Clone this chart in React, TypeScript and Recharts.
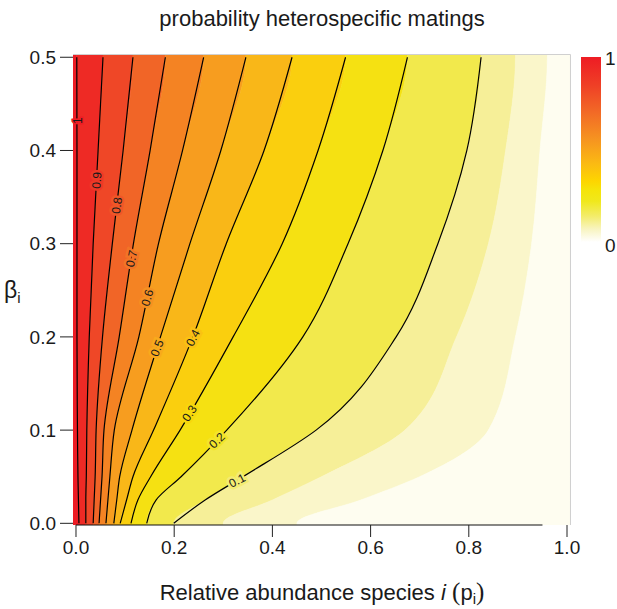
import { Area, ComposedChart, Line, ReferenceDot, ReferenceLine, XAxis, YAxis } from "recharts";

const FONT = "'Liberation Sans', Arial, sans-serif";

const betaLevels = [0, 0.025, 0.05, 0.1, 0.2, 0.3, 0.4, 0.5];

// p_i where each contour crosses the beta rows above
const contour100 = [0.006, 0.005, 0.004, 0.003, 0.002, 0.002, 0.002, 0.0016];
const contour090 = [0.02, 0.02, 0.021, 0.022, 0.027, 0.035, 0.045, 0.055];
const contour080 = [0.035, 0.037, 0.039, 0.041, 0.054, 0.074, 0.096, 0.116];
const contour070 = [0.047, 0.05, 0.053, 0.057, 0.088, 0.117, 0.151, 0.182];
const contour060 = [0.061, 0.065, 0.069, 0.078, 0.128, 0.168, 0.217, 0.26];
const contour050 = [0.077, 0.083, 0.089, 0.114, 0.172, 0.232, 0.295, 0.346];
const contour040 = [0.09, 0.103, 0.116, 0.158, 0.238, 0.306, 0.383, 0.44];
const contour030 = [0.112, 0.126, 0.152, 0.212, 0.32, 0.42, 0.493, 0.549];
const contour020 = [0.144, 0.163, 0.214, 0.307, 0.462, 0.554, 0.625, 0.675];
const contour010 = [0.199, 0.263, 0.34, 0.489, 0.652, 0.737, 0.796, 0.825];
// faint levels, only visible as colour steps in the heat map (no line)
const contour005 = [0.3, 0.4, 0.5, 0.67, 0.775, 0.84, 0.875, 0.895];
const contour002 = [0.45, 0.58, 0.7, 0.84, 0.895, 0.928, 0.945, 0.96];

const contourLines = [contour100, contour090, contour080, contour070, contour060, contour050, contour040, contour030, contour020, contour010];
const paleLines = [contour005, contour002];

const levelNames = ["1", "0.9", "0.8", "0.7", "0.6", "0.5", "0.4", "0.3", "0.2", "0.1"];
const labelP = [0.003, 0.042, 0.083, 0.113, 0.145, 0.165, 0.238, 0.231, 0.287, 0.328];
const labelBeta = [0.432, 0.368, 0.341, 0.284, 0.242, 0.188, 0.199, 0.118, 0.089, 0.046];
const labelAngle = [-90, -86, -82, -78, -74, -68, -62, -56, -44, -27];
const labelHalo = ["#ED1C24", "#EE3826", "#F05627", "#F27426", "#F59021", "#F8AA1C", "#FAC213", "#F7D80C", "#F3E52A", "#F4EC72"];

// fill between neighbouring boundaries, left to right
const bandColors = [
  "#ED1C24", "#EE2A25", "#EF4727", "#F16527", "#F48323", "#F79D1F", "#F9B718",
  "#FACF0E", "#F5E112", "#F2E94C", "#F6EF98", "#FAF6CA", "#FEFDF0",
];

const xTicks = [0, 0.2, 0.4, 0.6, 0.8, 1];
const yTicks = [0, 0.1, 0.2, 0.3, 0.4, 0.5];
const xDomain = [-0.0061, 1.0061];
const yDomain = [-0.0018, 0.5035];

const allLines = [...contourLines, ...paleLines];

const makeRow = (beta: number, i: number, pad: boolean) => ({
  beta,
  pad,
  edges: [xDomain[0], ...allLines.map((c) => c[i]), xDomain[1]],
});

// the two pad rows stretch the heat map to the frame edges
const rows = [
  makeRow(yDomain[0], 0, true),
  ...betaLevels.map((b, i) => makeRow(b, i, false)),
  makeRow(yDomain[1], betaLevels.length - 1, true),
];

export default function App() {
  return (
    <div style={{ position: "absolute", left: 0, top: 0, width: 617, height: 609, background: "#fff" }}>
      <ComposedChart
        width={617}
        height={609}
        layout="vertical"
        data={rows}
        margin={{ top: 54, right: 47, bottom: 0, left: 0 }}
      >
        <XAxis
          type="number"
          domain={xDomain}
          allowDataOverflow
          ticks={xTicks}
          interval={0}
          tickFormatter={(v: number) => v.toFixed(1)}
          height={84}
          tickSize={12}
          tickMargin={4}
          axisLine={false}
          tickLine={{ stroke: "#222" }}
          tick={{ fontSize: 19, fill: "#1a1a1a", fontFamily: FONT }}
        />
        <YAxis
          type="number"
          dataKey="beta"
          domain={yDomain}
          reversed
          allowDataOverflow
          ticks={yTicks}
          interval={0}
          tickFormatter={(v: number) => v.toFixed(1)}
          width={73}
          tickSize={13}
          tickMargin={4}
          axisLine={false}
          tickLine={{ stroke: "#222" }}
          tick={{ fontSize: 19, fill: "#1a1a1a", fontFamily: FONT }}
        />

        {bandColors.map((color, k) => (
          <Area
            key={"band" + k}
            type="monotone"
            dataKey={(r: any) => [r.edges[k], r.edges[k + 1]]}
            stroke={color}
            strokeWidth={0.6}
            fill={color}
            fillOpacity={1}
            isAnimationActive={false}
          />
        ))}

        {contourLines.map((_, k) => (
          <Line
            key={"line" + k}
            type="monotone"
            dataKey={(r: any) => (r.pad ? null : r.edges[k + 1])}
            stroke="#000"
            strokeWidth={1.2}
            dot={false}
            activeDot={false}
            isAnimationActive={false}
          />
        ))}

        {levelNames.map((name, k) => (
          <ReferenceDot
            key={"lab" + k}
            x={labelP[k]}
            y={labelBeta[k]}
            r={0}
            ifOverflow="visible"
            shape={(p: any) => (
              <g transform={`translate(${p.cx},${p.cy}) rotate(${labelAngle[k]})`}>
                <text
                  textAnchor="middle"
                  dy="0.35em"
                  fontSize={12}
                  fontFamily={FONT}
                  fill="#1a1a1a"
                  stroke={labelHalo[k]}
                  strokeWidth={k === 0 ? 3 : 5}
                  paintOrder="stroke"
                >
                  {name}
                </text>
              </g>
            )}
          />
        ))}

        <ReferenceLine
          segment={[
            { x: 0, y: yDomain[0] },
            { x: 0.95, y: yDomain[0] },
          ]}
          stroke="#111"
          strokeWidth={1.2}
          ifOverflow="visible"
        />
      </ComposedChart>

      <svg
        width={617}
        height={609}
        style={{ position: "absolute", left: 0, top: 0, pointerEvents: "none" }}
        fontFamily={FONT}
      >
        <defs>
          <linearGradient id="cbar" x1="0" y1="0" x2="0" y2="1">
            <stop offset="0" stopColor="#EE1C24" />
            <stop offset="0.15" stopColor="#EF3F26" />
            <stop offset="0.3" stopColor="#F26A26" />
            <stop offset="0.45" stopColor="#F69520" />
            <stop offset="0.58" stopColor="#FBBB12" />
            <stop offset="0.67" stopColor="#FDD500" />
            <stop offset="0.72" stopColor="#F5E40A" />
            <stop offset="0.78" stopColor="#F0E81C" />
            <stop offset="0.86" stopColor="#F3EC6A" />
            <stop offset="0.93" stopColor="#F8F4C0" />
            <stop offset="1" stopColor="#FFFFFF" />
          </linearGradient>
        </defs>
        <text x={322} y={26} textAnchor="middle" fontSize={22} fill="#1a1a1a">
          probability heterospecific matings
        </text>
        <polyline points="73,54.5 570.5,54.5 570.5,525" fill="none" stroke="#d0d0d0" strokeWidth={1} />
        <rect x={581} y={57} width={20} height={185} fill="url(#cbar)" />
        <text x={605} y={65} fontSize={19} fill="#1a1a1a">1</text>
        <text x={605} y={252} fontSize={19} fill="#1a1a1a">0</text>
        <text x={4} y={298} fontSize={23} fill="#1a1a1a">
          β<tspan fontSize={15} dy={5}>i</tspan>
        </text>
        <text x={322} y={600} textAnchor="middle" fontSize={22} fill="#1a1a1a">
          Relative abundance species <tspan fontStyle="italic">i</tspan>
          <tspan fontFamily="'Liberation Serif', serif" fontSize={25}> (</tspan>
          p<tspan fontSize={15} dy={4}>i</tspan>
          <tspan dy={-4} fontFamily="'Liberation Serif', serif" fontSize={25}>)</tspan>
        </text>
      </svg>
    </div>
  );
}
